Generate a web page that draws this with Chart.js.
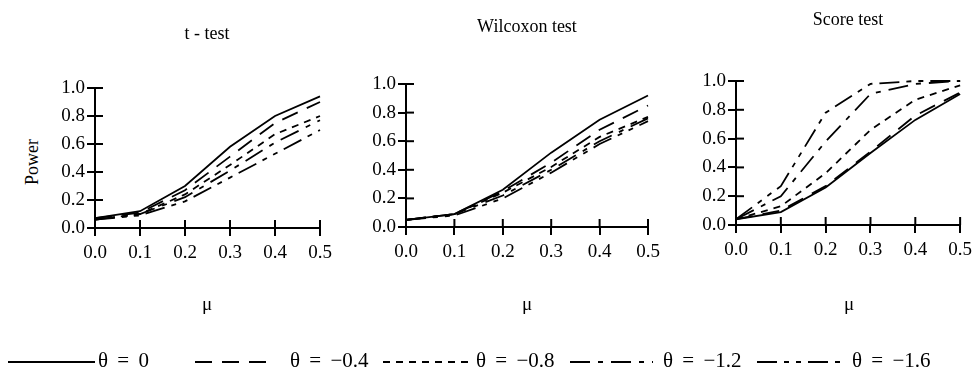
<!DOCTYPE html>
<html><head><meta charset="utf-8">
<script src="https://cdn.jsdelivr.net/npm/chart.js@4/dist/chart.umd.min.js"></script>
<style>
html,body{margin:0;padding:0;background:#fff;}
body{width:978px;height:373px;position:relative;overflow:hidden;font-family:"Liberation Serif","Times New Roman",serif;color:#000;}
canvas{position:absolute;top:0;}
.t{position:absolute;white-space:nowrap;transform:translate(-50%,-50%);line-height:1;}
.lg{position:absolute;white-space:nowrap;transform:translateY(-50%);line-height:1;font-size:21px;word-spacing:4px;}
svg{position:absolute;left:0;top:0;}
</style>
</head><body>
<canvas id="c1" width="290" height="330" style="left:50px"></canvas>
<canvas id="c2" width="307" height="330" style="left:361px"></canvas>
<canvas id="c3" width="287" height="330" style="left:691px"></canvas>

<div class="t" style="left:207px;top:33px;font-size:18px">t - test</div>
<div class="t" style="left:527px;top:26px;font-size:18px">Wilcoxon test</div>
<div class="t" style="left:848px;top:19px;font-size:18px">Score test</div>
<div class="t" style="left:32px;top:162px;font-size:18px;transform:translate(-50%,-50%) rotate(-90deg)">Power</div>
<div class="t" style="left:207px;top:303px;font-size:19px">μ</div>
<div class="t" style="left:527px;top:303px;font-size:19px">μ</div>
<div class="t" style="left:849px;top:303px;font-size:19px">μ</div>

<svg id="lgsvg" width="978" height="373"></svg>
<div id="legend"></div>

<script>
// ---- data ----
const mu = [0.0, 0.1, 0.2, 0.3, 0.4, 0.5];
const thetaLabels = ['θ = 0', 'θ = −0.4', 'θ = −0.8', 'θ = −1.2', 'θ = −1.6'];
const panelTitles = ['t - test', 'Wilcoxon test', 'Score test'];

// t - test
const tTheta0  = [0.07, 0.12, 0.30, 0.58, 0.80, 0.94];
const tTheta04 = [0.07, 0.11, 0.27, 0.51, 0.75, 0.90];
const tTheta08 = [0.06, 0.10, 0.24, 0.45, 0.67, 0.80];
const tTheta12 = [0.06, 0.10, 0.22, 0.41, 0.61, 0.77];
const tTheta16 = [0.06, 0.09, 0.19, 0.36, 0.53, 0.70];

// Wilcoxon test
const wTheta0  = [0.05, 0.09, 0.26, 0.52, 0.75, 0.92];
const wTheta04 = [0.05, 0.09, 0.25, 0.45, 0.68, 0.85];
const wTheta08 = [0.05, 0.09, 0.24, 0.42, 0.63, 0.77];
const wTheta12 = [0.05, 0.09, 0.22, 0.40, 0.60, 0.76];
const wTheta16 = [0.05, 0.08, 0.20, 0.38, 0.58, 0.74];

// Score test
const sTheta0  = [0.04, 0.09, 0.26, 0.50, 0.73, 0.91];
const sTheta04 = [0.04, 0.10, 0.27, 0.51, 0.76, 0.92];
const sTheta08 = [0.04, 0.13, 0.36, 0.66, 0.87, 0.97];
const sTheta12 = [0.04, 0.20, 0.58, 0.91, 0.98, 1.00];
const sTheta16 = [0.04, 0.27, 0.78, 0.98, 1.00, 1.00];

// ---- styles ----
const dashes = [[], [17, 10], [7, 6], [20, 8, 5, 8], [20, 7, 5, 7, 5, 7]];

const innerTicks = {
  id: 'innerTicks',
  afterDraw(chart) {
    const ctx = chart.ctx, a = chart.chartArea, xs = chart.scales.x, ys = chart.scales.y;
    ctx.save();
    ctx.strokeStyle = '#000';
    ctx.lineWidth = 2;
    xs.ticks.forEach(t => {
      const p = xs.getPixelForValue(t.value);
      ctx.beginPath(); ctx.moveTo(p, a.bottom); ctx.lineTo(p, a.bottom - 8); ctx.stroke();
    });
    ys.ticks.forEach(t => {
      const p = ys.getPixelForValue(t.value);
      ctx.beginPath(); ctx.moveTo(a.left, p); ctx.lineTo(a.left + 8, p); ctx.stroke();
    });
    ctx.restore();
  }
};

function makeChart(id, series, pad) {
  const datasets = series.map((vals, i) => ({
    label: thetaLabels[i],
    data: mu.map((m, k) => ({ x: m, y: vals[k] })),
    borderColor: '#000',
    borderWidth: 1.8,
    borderDash: dashes[i],
    pointRadius: 0,
    tension: 0,
    fill: false,
    clip: false
  }));
  const tickFont = { family: '"Liberation Serif","Times New Roman",serif', size: 19 };
  return new Chart(document.getElementById(id), {
    type: 'line',
    data: { datasets },
    options: {
      responsive: false,
      animation: false,
      layout: { padding: pad },
      plugins: { legend: { display: false }, title: { display: false }, tooltip: { enabled: false } },
      scales: {
        x: {
          type: 'linear', min: 0, max: 0.5,
          ticks: { stepSize: 0.1, color: '#000', font: tickFont, padding: 6, maxRotation: 0,
                   callback: v => Number(v).toFixed(1) },
          grid: { drawOnChartArea: false, drawTicks: true, tickLength: 8, color: '#000', lineWidth: 2 },
          border: { display: true, color: '#000', width: 2 },
          afterFit: s => { s.height = 40; }
        },
        y: {
          type: 'linear', min: 0, max: 1,
          ticks: { stepSize: 0.2, color: '#000', font: tickFont, padding: 2,
                   callback: v => Number(v).toFixed(1) },
          grid: { drawOnChartArea: false, drawTicks: true, tickLength: 8, color: '#000', lineWidth: 2 },
          border: { display: true, color: '#000', width: 2 },
          afterFit: s => { s.width = 45; }
        }
      }
    },
    plugins: [innerTicks]
  });
}

makeChart('c1', [tTheta0, tTheta04, tTheta08, tTheta12, tTheta16], { left: 0, right: 20, top: 88, bottom: 62 });
makeChart('c2', [wTheta0, wTheta04, wTheta08, wTheta12, wTheta16], { left: 0, right: 20, top: 84, bottom: 63 });
makeChart('c3', [sTheta0, sTheta04, sTheta08, sTheta12, sTheta16], { left: 0, right: 16, top: 81, bottom: 65 });

// ---- legend ----
const legendItems = [
  { x0: 8,   x1: 95,  tx: 98 },
  { x0: 195, x1: 268, tx: 290 },
  { x0: 383, x1: 473, tx: 476 },
  { x0: 570, x1: 653, tx: 663 },
  { x0: 757, x1: 840, tx: 852 }
];
const svg = document.getElementById('lgsvg');
const lg = document.getElementById('legend');
legendItems.forEach((it, i) => {
  const ln = document.createElementNS('http://www.w3.org/2000/svg', 'line');
  ln.setAttribute('x1', it.x0); ln.setAttribute('x2', it.x1);
  ln.setAttribute('y1', 362); ln.setAttribute('y2', 362);
  ln.setAttribute('stroke', '#000'); ln.setAttribute('stroke-width', 2);
  if (dashes[i].length) ln.setAttribute('stroke-dasharray', dashes[i].join(' '));
  svg.appendChild(ln);
  const d = document.createElement('div');
  d.className = 'lg';
  d.style.left = it.tx + 'px';
  d.style.top = '360px';
  d.textContent = thetaLabels[i];
  lg.appendChild(d);
});
</script>
</body></html>
